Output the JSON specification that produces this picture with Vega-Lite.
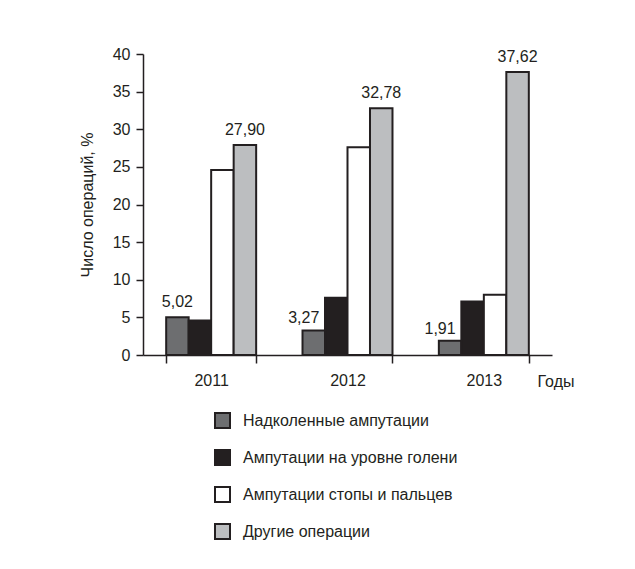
{
  "$schema": "https://vega.github.io/schema/vega-lite/v6.json",
  "width": 409,
  "height": 301,
  "autosize": "none",
  "padding": {"left": 143, "top": 54, "right": 83, "bottom": 214},
  "background": "white",
  "config": {
    "locale": {"number": {"decimal": ",", "thousands": " ", "grouping": [3], "currency": ["", ""]}},
    "font": "Liberation Sans",
    "view": {"stroke": null}
  },
  "data": {
    "values": [
      {"year": "2011", "series": "Надколенные ампутации", "value": 5.02},
      {"year": "2011", "series": "Ампутации на уровне голени", "value": 4.6},
      {"year": "2011", "series": "Ампутации стопы и пальцев", "value": 24.6},
      {"year": "2011", "series": "Другие операции", "value": 27.9},
      {"year": "2012", "series": "Надколенные ампутации", "value": 3.27},
      {"year": "2012", "series": "Ампутации на уровне голени", "value": 7.6},
      {"year": "2012", "series": "Ампутации стопы и пальцев", "value": 27.6},
      {"year": "2012", "series": "Другие операции", "value": 32.78},
      {"year": "2013", "series": "Надколенные ампутации", "value": 1.91},
      {"year": "2013", "series": "Ампутации на уровне голени", "value": 7.1},
      {"year": "2013", "series": "Ампутации стопы и пальцев", "value": 8.0},
      {"year": "2013", "series": "Другие операции", "value": 37.62}
    ]
  },
  "encoding": {
    "x": {
      "field": "year", "type": "nominal",
      "scale": {"paddingInner": 0.34, "paddingOuter": 0.17},
      "axis": {
        "title": "Годы", "labelAngle": 0, "labelFontSize": 16, "labelColor": "#231f20",
        "labelPadding": 9, "tickSize": 8, "tickBand": "extent", "tickColor": "#231f20", "tickWidth": 1.5,
        "domainColor": "#231f20", "domainWidth": 1.5,
        "titleFontSize": 16, "titleFontWeight": "normal", "titleColor": "#231f20",
        "titleAnchor": "end", "titleAlign": "left", "titleX": 394, "titleY": 18, "titleBaseline": "top"
      }
    },
    "xOffset": {"field": "series", "sort": null, "scale": {"paddingInner": 0}},
    "y": {
      "field": "value", "type": "quantitative",
      "scale": {"domain": [0, 40]},
      "axis": {
        "title": "Число операций, %", "values": [0, 5, 10, 15, 20, 25, 30, 35, 40],
        "grid": false, "labelFontSize": 16, "labelColor": "#231f20", "labelPadding": 6,
        "tickSize": 7, "tickColor": "#231f20", "tickWidth": 1.5,
        "domainColor": "#231f20", "domainWidth": 1.5,
        "titleFontSize": 16, "titleFontWeight": "normal", "titleColor": "#231f20", "titlePadding": 17
      }
    }
  },
  "layer": [
    {
      "mark": {"type": "bar", "stroke": "#231f20", "strokeWidth": 2},
      "encoding": {
        "fill": {
          "field": "series", "type": "nominal", "sort": null,
          "scale": {
            "domain": ["Надколенные ампутации", "Ампутации на уровне голени", "Ампутации стопы и пальцев", "Другие операции"],
            "range": ["#6d6e70", "#231f20", "#ffffff", "#bcbec0"]
          },
          "legend": {
            "title": null, "orient": "none", "legendX": 71, "legendY": 358, "direction": "vertical",
            "symbolType": "square", "symbolSize": 225, "symbolStrokeColor": "#231f20", "symbolStrokeWidth": 2,
            "labelFontSize": 16, "labelColor": "#231f20", "labelOffset": 12, "rowPadding": 14, "labelLimit": 400
          }
        }
      }
    },
    {
      "transform": [{"filter": "datum.series === 'Надколенные ампутации' && datum.year === '2011'"}],
      "mark": {"type": "text", "baseline": "alphabetic", "dy": -10, "fontSize": 16, "fill": "#231f20"},
      "encoding": {"text": {"field": "value", "type": "quantitative", "format": ".2f"}}
    },
    {
      "transform": [{"filter": "datum.series === 'Надколенные ампутации' && datum.year !== '2011'"}],
      "mark": {"type": "text", "baseline": "alphabetic", "dy": -7, "dx": -10, "fontSize": 16, "fill": "#231f20"},
      "encoding": {"text": {"field": "value", "type": "quantitative", "format": ".2f"}}
    },
    {
      "transform": [{"filter": "datum.series === 'Другие операции'"}],
      "mark": {"type": "text", "baseline": "alphabetic", "dy": -10, "fontSize": 16, "fill": "#231f20"},
      "encoding": {"text": {"field": "value", "type": "quantitative", "format": ".2f"}}
    }
  ]
}
